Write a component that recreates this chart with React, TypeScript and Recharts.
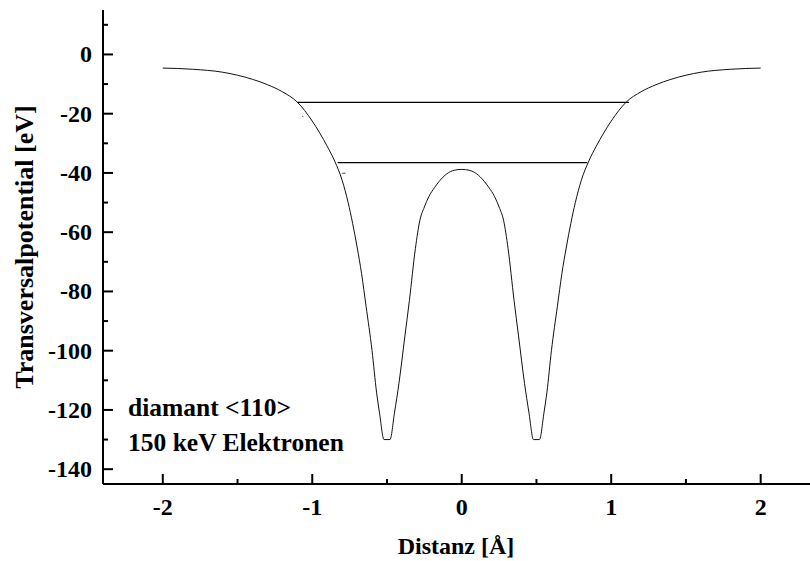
import React from 'react'
import { LineChart, Line, XAxis, YAxis, ReferenceLine } from 'recharts'

// distance in Å and transverse potential in eV
const distanz = [
  -2.0, -1.8, -1.6, -1.4, -1.3, -1.2, -1.1, -1.0, -0.95, -0.9, -0.85, -0.8, -0.76, -0.73, -0.7,
  -0.67, -0.64, -0.6, -0.57, -0.55, -0.52, -0.48, -0.45, -0.42, -0.38, -0.35, -0.31, -0.28,
  -0.25, -0.22, -0.18, -0.15, -0.1, -0.05, 0,
  0.05, 0.1, 0.15, 0.18, 0.22, 0.25, 0.28, 0.31, 0.35, 0.38, 0.42, 0.45, 0.48, 0.52, 0.55, 0.57,
  0.6, 0.64, 0.67, 0.7, 0.73, 0.76, 0.8, 0.85, 0.9, 0.95, 1.0, 1.1, 1.2, 1.3, 1.4, 1.6, 1.8, 2.0,
]
const potential = [
  -4.6, -5.0, -6.0, -8.4, -10.2, -12.6, -16.1, -22.5, -26.5, -31, -36, -42.5, -50, -57, -65,
  -74, -85, -100, -114, -121, -130, -130, -121, -111, -95, -83, -65.5, -56,
  -51.5, -48, -44.8, -42.8, -40.3, -39.1, -38.8,
  -39.1, -40.3, -42.8, -44.8, -48, -51.5, -56, -65.5, -83, -95, -111, -121, -130, -130, -121, -114,
  -100, -85, -74, -65, -57, -50, -42.5, -36, -31, -26.5, -22.5, -16.1, -12.6, -10.2, -8.4, -6.0, -5.0, -4.6,
]

// bound state levels: [energy, from, to]
const levels: [number, number, number][] = [
  [-16.2, -1.1, 1.12],
  [-36.5, -0.83, 0.84],
]

const xTicks = [-2, -1.5, -1, -0.5, 0, 0.5, 1, 1.5, 2]
const yTicks = [-140, -130, -120, -110, -100, -90, -80, -70, -60, -50, -40, -30, -20, -10, 0, 10]

const data = distanz.map((x, i) => ({ x, v: potential[i] }))

const font = {
  fontFamily: '"Liberation Serif", "Times New Roman", serif',
  fontWeight: 'bold' as const,
  fill: '#000',
}

function BottomTick(props: any) {
  const { x, y, payload } = props
  const major = Number.isInteger(payload.value)
  return (
    <g>
      <line x1={x} x2={x} y1={y} y2={y - (major ? 10 : 5)} stroke="#000" strokeWidth={2} />
      {major && (
        <text x={x} y={y + 31} textAnchor="middle" fontSize={24} {...font}>
          {payload.value}
        </text>
      )}
    </g>
  )
}

function TopTick(props: any) {
  const { x, y, payload } = props
  const major = Number.isInteger(payload.value)
  return <line x1={x} x2={x} y1={y} y2={y + (major ? 10 : 5)} stroke="#000" strokeWidth={2} />
}

function LeftTick(props: any) {
  const { x, y, payload } = props
  const major = payload.value % 20 === 0
  return (
    <g>
      <line x1={x} x2={x + (major ? 10 : 5)} y1={y} y2={y} stroke="#000" strokeWidth={2} />
      {major && (
        <text x={x - 11} y={y + 8} textAnchor="end" fontSize={24} {...font}>
          {payload.value}
        </text>
      )}
    </g>
  )
}

export default function App() {
  return (
    <div style={{ position: 'absolute', left: 0, top: 0, width: 810, height: 561, background: '#fff' }}>
      <LineChart width={810} height={561} data={data} margin={{ top: 10, right: 0, bottom: 0, left: 0 }}>
        <XAxis
          type="number"
          dataKey="x"
          domain={[-2.4, 2.33]}
          ticks={xTicks}
          interval={0}
          allowDataOverflow
          height={77}
          tickSize={0}
          tickMargin={0}
          tickLine={false}
          axisLine={{ stroke: '#000', strokeWidth: 2 }}
          tick={<BottomTick />}
        />
        <XAxis
          xAxisId="top"
          orientation="top"
          type="number"
          dataKey="x"
          domain={[-2.4, 2.33]}
          ticks={xTicks}
          interval={0}
          allowDataOverflow
          height={0}
          tickSize={0}
          tickMargin={0}
          tickLine={false}
          axisLine={{ stroke: '#000', strokeWidth: 2 }}
          tick={<TopTick />}
        />
        <YAxis
          type="number"
          domain={[-145, 15]}
          ticks={yTicks}
          interval={0}
          allowDataOverflow
          width={103}
          tickSize={0}
          tickMargin={0}
          tickLine={false}
          axisLine={{ stroke: '#000', strokeWidth: 2 }}
          tick={<LeftTick />}
        />
        {levels.map(([e, a, b]) => (
          <ReferenceLine
            key={e}
            segment={[{ x: a, y: e }, { x: b, y: e }]}
            stroke="#000"
            strokeWidth={1.2}
            ifOverflow="visible"
          />
        ))}
        <ReferenceLine segment={[{ x: -1.068, y: -20.9 }, { x: -1.06, y: -20.9 }]} stroke="#444" strokeWidth={1} />
        <ReferenceLine segment={[{ x: -0.8, y: -40.1 }, { x: -0.778, y: -40.1 }]} stroke="#444" strokeWidth={1} />
        <Line
          type="monotone"
          dataKey="v"
          stroke="#111"
          strokeWidth={1}
          dot={false}
          activeDot={false}
          isAnimationActive={false}
        />
        <text x={128} y={416} fontSize={25.5} {...font}>
          diamant &lt;110&gt;
        </text>
        <text x={128} y={451} fontSize={25.5} {...font}>
          150 keV Elektronen
        </text>
        <text x={456} y={554} textAnchor="middle" fontSize={24} {...font}>
          Distanz [Å]
        </text>
        <text x={33} y={247} textAnchor="middle" fontSize={26} transform="rotate(-90 33 247)" {...font}>
          Transversalpotential [eV]
        </text>
      </LineChart>
    </div>
  )
}
